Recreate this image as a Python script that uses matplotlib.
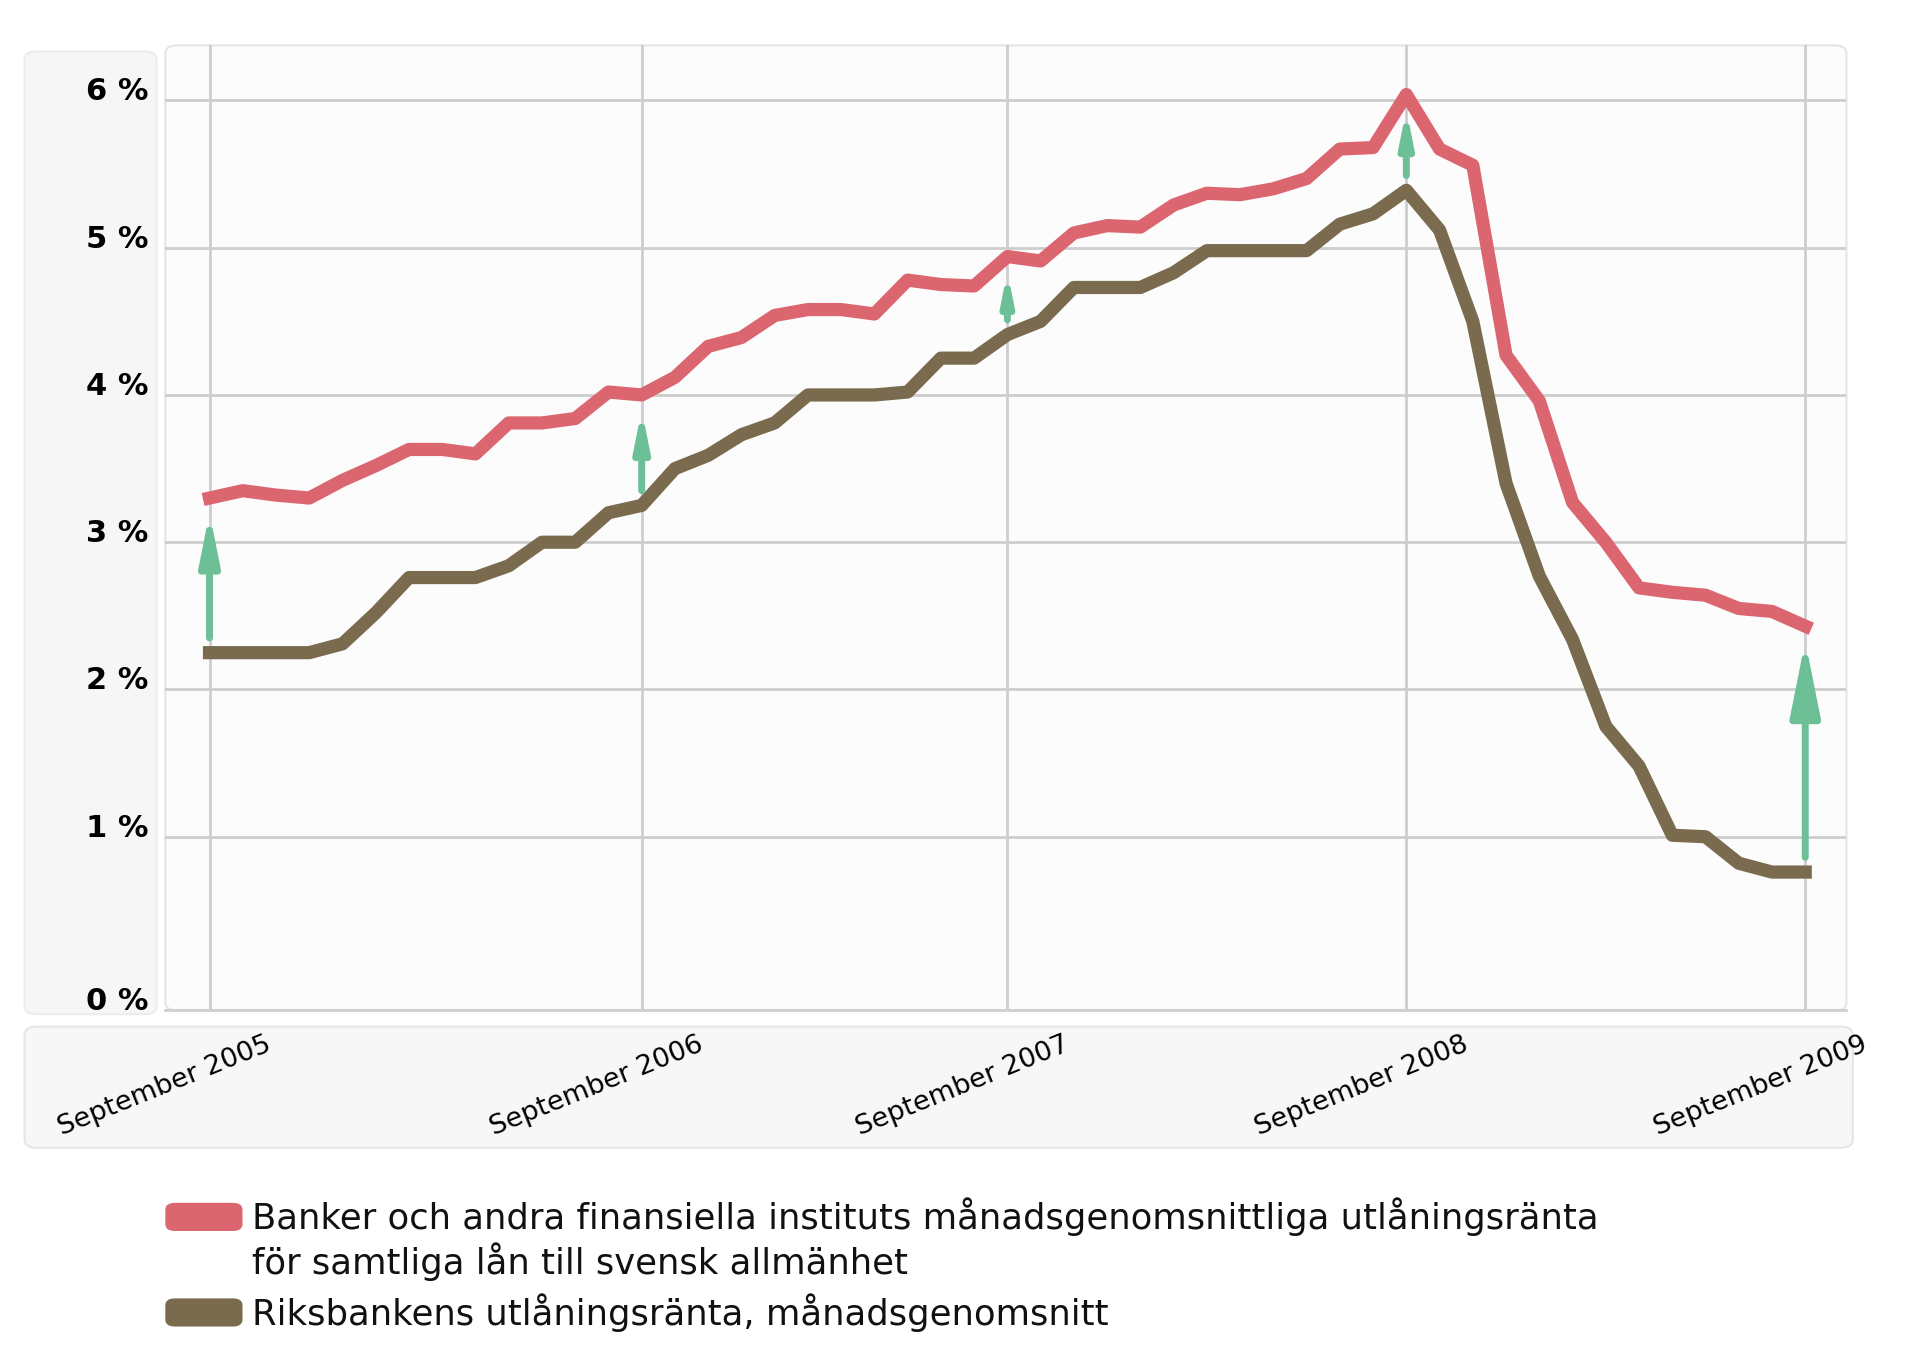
import numpy as np
import matplotlib.pyplot as plt
from matplotlib.patches import FancyBboxPatch
from matplotlib.transforms import ScaledTranslation

# Månadsvärden sep 2005 - sep 2009, procent
bank_rate = [3.30, 3.35, 3.32, 3.30, 3.42, 3.52, 3.63, 3.63, 3.60, 3.81,
             3.81, 3.84, 4.02, 4.00, 4.12, 4.33, 4.39, 4.54, 4.58, 4.58,
             4.55, 4.78, 4.75, 4.74, 4.94, 4.91, 5.10, 5.15, 5.14, 5.29,
             5.37, 5.36, 5.40, 5.47, 5.67, 5.68, 6.04, 5.67, 5.56, 4.27,
             3.96, 3.27, 3.00, 2.69, 2.66, 2.64, 2.55, 2.53, 2.43]
riks_rate = [2.25, 2.25, 2.25, 2.25, 2.31, 2.52, 2.76, 2.76, 2.76, 2.84,
             3.00, 3.00, 3.20, 3.25, 3.50, 3.59, 3.73, 3.81, 4.00, 4.00,
             4.00, 4.02, 4.25, 4.25, 4.41, 4.50, 4.73, 4.73, 4.73, 4.83,
             4.98, 4.98, 4.98, 4.98, 5.16, 5.23, 5.39, 5.12, 4.50, 3.40,
             2.77, 2.34, 1.75, 1.48, 1.01, 1.00, 0.82, 0.76, 0.76]
months = np.arange(len(bank_rate))

tick_months = [0, 13, 24, 36, 48]
tick_labels = ['September 2005', 'September 2006', 'September 2007',
               'September 2008', 'September 2009']
arrow_months = [0, 13, 24, 36, 48]

y_values = [0, 1, 2, 3, 4, 5, 6]
y_labels = ['0 %', '1 %', '2 %', '3 %', '4 %', '5 %', '6 %']

legend_labels = ['Banker och andra finansiella instituts månadsgenomsnittliga utlåningsränta\n'
                 'för samtliga lån till svensk allmänhet',
                 'Riksbankens utlåningsränta, månadsgenomsnitt']

red = '#db6670'
brown = '#7a6b4f'
green = '#6dbf95'
grid_col = '#cdcdcd'

fig = plt.figure(figsize=(19.2, 13.67), dpi=100)
fig.patch.set_facecolor('white')

# Panels behind the axes
def panel(x0, y0, x1, y1, fc, ec):
    p = FancyBboxPatch((x0, y0), x1 - x0, y1 - y0,
                       boxstyle='round,pad=0,rounding_size=0.006',
                       transform=fig.transFigure, fc=fc, ec=ec, lw=1.5, zorder=-2)
    fig.add_artist(p)

panel(0.0128, 0.2581, 0.0816, 0.9624, '#f6f6f6', '#ececec')
panel(0.0128, 0.1604, 0.9650, 0.2490, '#f7f7f7', '#e6e6e6')
panel(0.0861, 0.2608, 0.9617, 0.9668, '#fcfcfc', '#e4e4e4')

ax = fig.add_axes([0.0861, 0.2608, 0.9617 - 0.0861, 0.9668 - 0.2608])
ax.set_facecolor('none')

ax.plot(months, bank_rate, color=red, lw=9.5, solid_joinstyle='round', zorder=3)
ax.plot(months, riks_rate, color=brown, lw=9.5, solid_joinstyle='round', zorder=3)

for m in arrow_months:
    lo = riks_rate[m] + 0.1
    hi = bank_rate[m] - 0.1
    gap = hi - lo
    ax.annotate('', xy=(m, hi), xytext=(m, lo),
                arrowprops=dict(arrowstyle='-|>,head_length=1,head_width=0.2',
                                color=green, lw=5, mutation_scale=8 + 25 * gap,
                                shrinkA=0, shrinkB=0), zorder=4)

y_bottom = -0.18
ax.set_xlim(-1.33, 49.24)
ax.set_ylim(y_bottom, 6.374)

yt = [y_bottom if v == 0 else v for v in y_values]
ax.set_yticks(yt)
ax.set_yticklabels(y_labels, fontsize=22, fontweight='bold')
down = ScaledTranslation(0, -0.03, fig.dpi_scale_trans)
for t in ax.get_yticklabels():
    t.set_va('baseline')
    t.set_transform(t.get_transform() + down)
ax.tick_params(axis='y', length=0, pad=12)

ax.set_xticks(tick_months)
ax.set_xticklabels(tick_labels, fontsize=19.5, rotation=22, ha='right', va='top',
                   rotation_mode='anchor')
ax.tick_params(axis='x', length=0, pad=15)
shift = ScaledTranslation(0.56, 0, fig.dpi_scale_trans)
for t in ax.get_xticklabels():
    t.set_transform(t.get_transform() + shift)

ax.grid(True, color=grid_col, lw=2, zorder=1)
ax.set_axisbelow(True)
for s in ['left', 'right', 'top']:
    ax.spines[s].set_visible(False)
ax.spines['bottom'].set_color('#d0d0d0')
ax.spines['bottom'].set_linewidth(2)

# Legend
sw_y = [0.0995, 0.0296]
text_y = [0.0936, 0.0394]
for col, lab, sy, ty in zip([red, brown], legend_labels, sw_y, text_y):
    sw = FancyBboxPatch((0.0861, sy), 0.0402, 0.0206,
                        boxstyle='round,pad=0,rounding_size=0.005',
                        transform=fig.transFigure, fc=col, ec='none')
    fig.add_artist(sw)
    fig.text(0.1315, ty, lab, fontsize=25.5, va='center', ha='left',
             linespacing=1.2, color='#111111')

plt.savefig('out.png', dpi=100)
